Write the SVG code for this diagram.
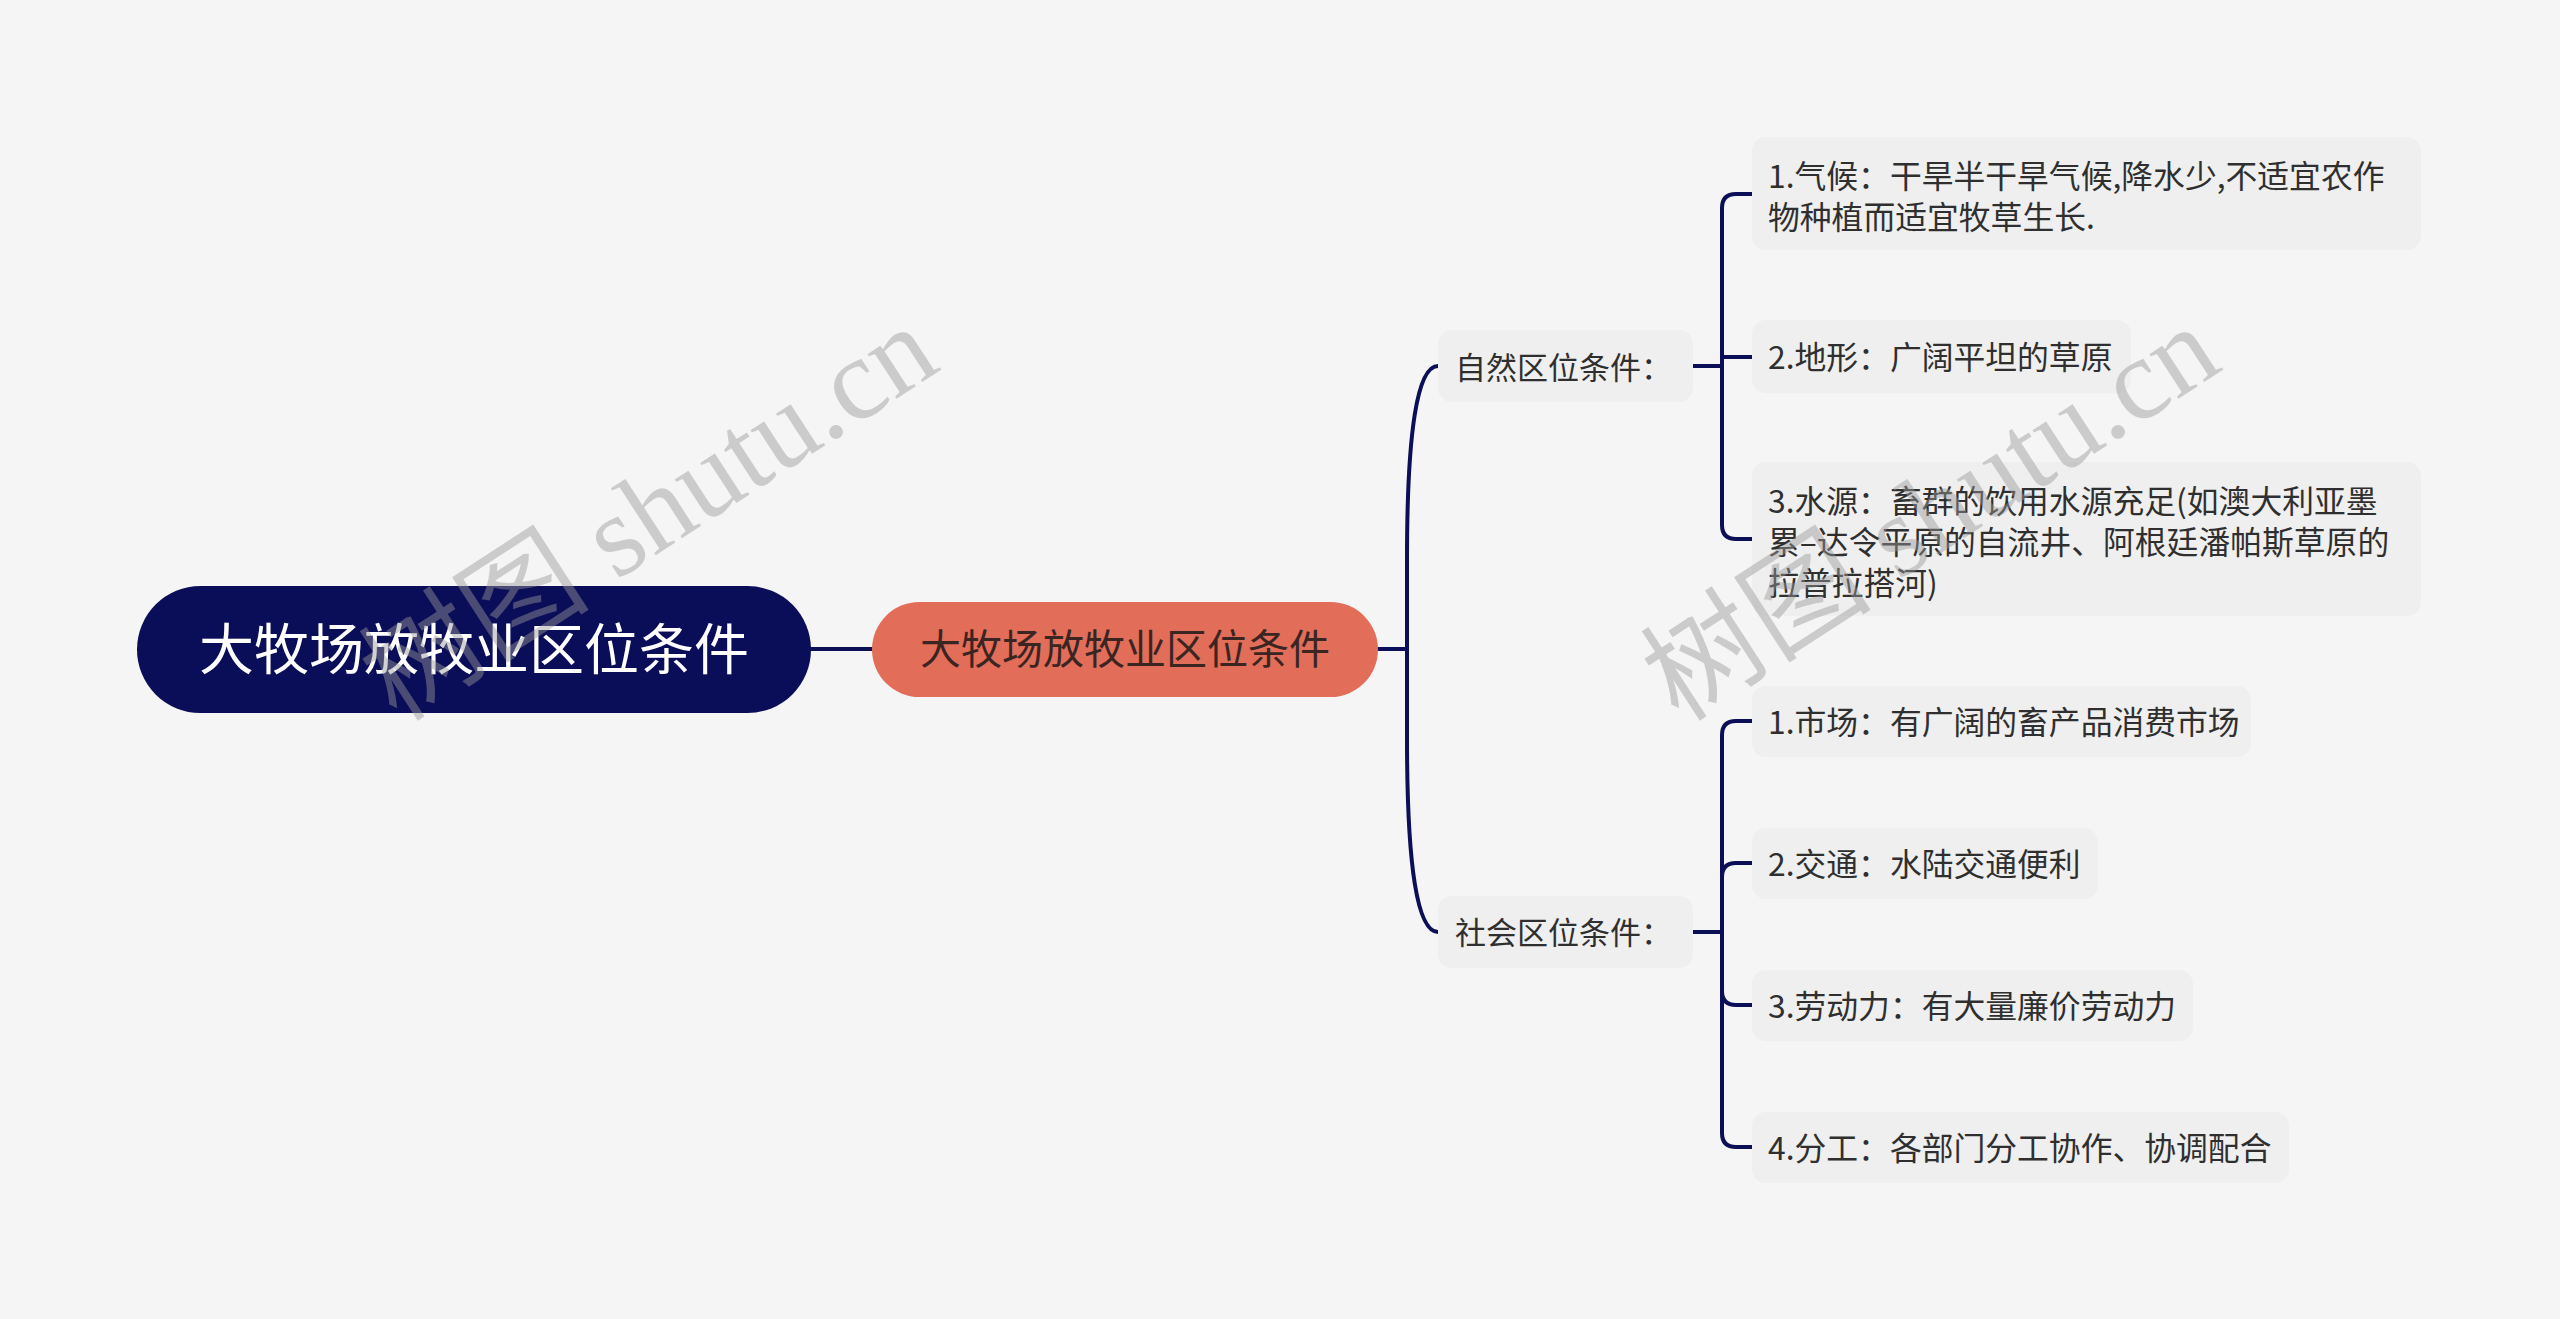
<svg xmlns="http://www.w3.org/2000/svg" width="2560" height="1319" viewBox="0 0 2560 1319">
<style>
.bg{fill:#f5f5f5}
.t{font-family:"Noto Sans CJK SC","Noto Sans",sans-serif}
.leaf rect{fill:#efefef}
.leaf text{font-size:31.8px;fill:#2f2f2f}
.sub rect{fill:#efefef}
.sub text{font-size:31px;fill:#2f2f2f}
.ln{fill:none;stroke:#0b0f57;stroke-width:4;stroke-linecap:round;stroke-linejoin:round}
.wm{font-family:"Liberation Serif","Noto Sans CJK SC",serif;font-size:116px;fill:#9a9a9a;fill-opacity:0.45}
</style>
<rect class="bg" x="0" y="0" width="2560" height="1319"/>
<g id="connectors">
<path class="ln" d="M811,649 H872"/>
<path class="ln" d="M1378,649 H1407"/>
<path class="ln" d="M1407,649 V560 Q1407,366 1438,366"/>
<path class="ln" d="M1407,649 V738 Q1407,932 1438,932"/>
<path class="ln" d="M1693,366 H1722"/>
<path class="ln" d="M1722,366 V208 Q1722,194 1736,194 H1752"/>
<path class="ln" d="M1722,357 H1752"/>
<path class="ln" d="M1722,366 V525 Q1722,539 1736,539 H1752"/>
<path class="ln" d="M1693,932 H1722"/>
<path class="ln" d="M1722,932 V735 Q1722,721 1736,721 H1752"/>
<path class="ln" d="M1722,932 V877 Q1722,863 1736,863 H1752"/>
<path class="ln" d="M1722,932 V991 Q1722,1005 1736,1005 H1752"/>
<path class="ln" d="M1722,932 V1133 Q1722,1147 1736,1147 H1752"/>
</g>
<g id="root">
<rect x="137" y="586" width="674" height="127" rx="63.5" fill="#0a0d58"/>
<text class="t" x="474" y="669" font-size="55" fill="#ffffff" text-anchor="middle">大牧场放牧业区位条件</text>
</g>
<g id="main">
<rect x="872" y="602" width="506" height="95" rx="47.5" fill="#e26d59"/>
<text class="t" x="1125" y="664" font-size="41" fill="#3a2522" text-anchor="middle">大牧场放牧业区位条件</text>
</g>
<g id="natural" class="sub">
<rect x="1438" y="330" width="255" height="72" rx="14"/>
<text class="t" x="1455" y="379">自然区位条件：</text>
</g>
<g id="social" class="sub">
<rect x="1438" y="896" width="255" height="72" rx="14"/>
<text class="t" x="1455" y="944">社会区位条件：</text>
</g>
<g id="n1" class="leaf">
<rect x="1752" y="137" width="669" height="113" rx="14"/>
<text class="t" x="1768" y="188">1.气候：干旱半干旱气候,降水少,不适宜农作</text>
<text class="t" x="1768" y="229">物种植而适宜牧草生长.</text>
</g>
<g id="n2" class="leaf">
<rect x="1752" y="320" width="379" height="73" rx="14"/>
<text class="t" x="1768" y="369">2.地形：广阔平坦的草原</text>
</g>
<g id="n3" class="leaf">
<rect x="1752" y="462" width="669" height="154" rx="14"/>
<text class="t" x="1768" y="513">3.水源：畜群的饮用水源充足(如澳大利亚墨</text>
<text class="t" x="1768" y="554">累–达令平原的自流井、阿根廷潘帕斯草原的</text>
<text class="t" x="1768" y="595">拉普拉搭河)</text>
</g>
<g id="s1" class="leaf">
<rect x="1752" y="686" width="499" height="71" rx="14"/>
<text class="t" x="1768" y="734">1.市场：有广阔的畜产品消费市场</text>
</g>
<g id="s2" class="leaf">
<rect x="1752" y="828" width="346" height="71" rx="14"/>
<text class="t" x="1768" y="876">2.交通：水陆交通便利</text>
</g>
<g id="s3" class="leaf">
<rect x="1752" y="970" width="441" height="71" rx="14"/>
<text class="t" x="1768" y="1018">3.劳动力：有大量廉价劳动力</text>
</g>
<g id="s4" class="leaf">
<rect x="1752" y="1112" width="537" height="71" rx="14"/>
<text class="t" x="1768" y="1160">4.分工：各部门分工协作、协调配合</text>
</g>
<g id="watermarks">
<text class="wm" transform="translate(670,546) rotate(-33)" text-anchor="middle">树图 shutu.cn</text>
<text class="wm" transform="translate(1952,546) rotate(-33)" text-anchor="middle">树图 shutu.cn</text>
</g>
</svg>
